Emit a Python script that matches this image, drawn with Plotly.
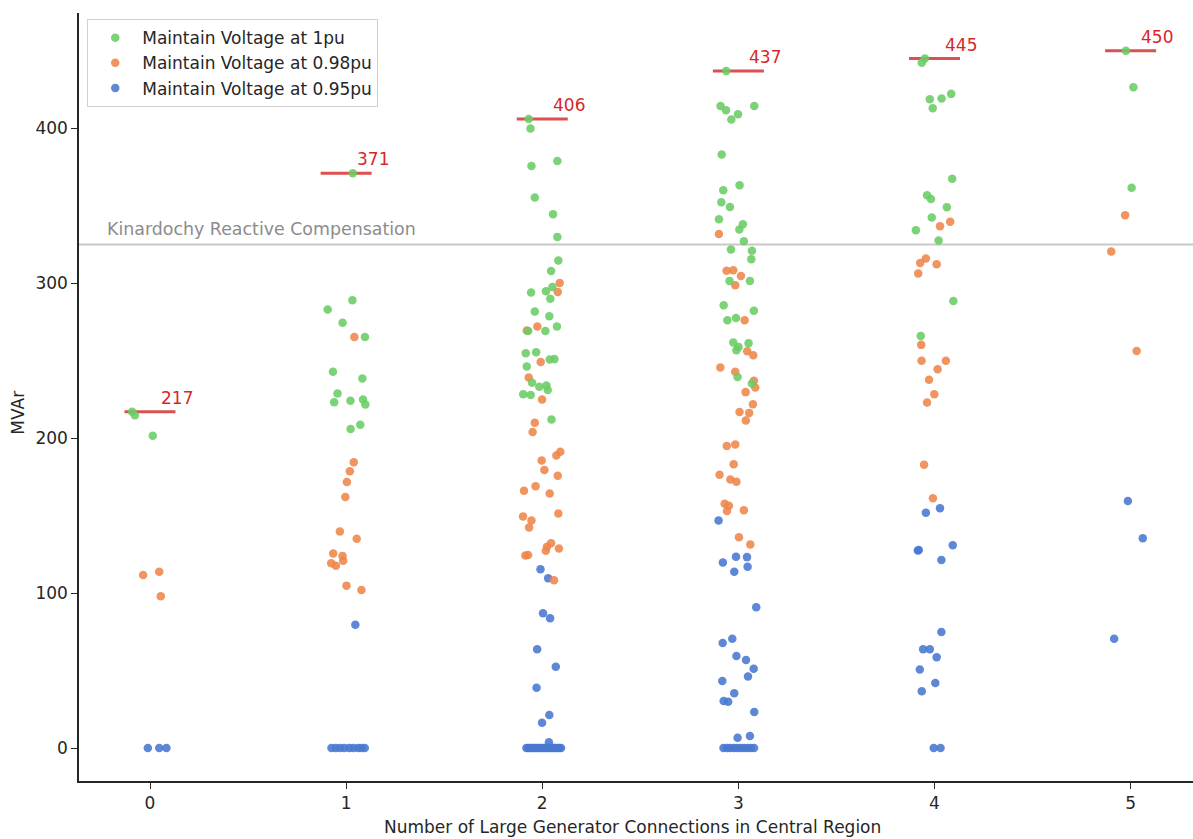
import plotly.graph_objects as go

categories = [0, 1, 2, 3, 4, 5]
series_names = ["Maintain Voltage at 1pu", "Maintain Voltage at 0.98pu", "Maintain Voltage at 0.95pu"]
max_vals = [217, 371, 406, 437, 445, 450]
compensation_level = 325
compensation_label = "Kinardochy Reactive Compensation"

# values per category (MVAr) and the horizontal jitter
green_y = [
    [217.0, 214.8, 201.5],
    [371.0, 289.0, 283.1, 274.5, 265.3, 242.8, 238.5, 228.8, 223.2, 224.2, 225.0, 221.7, 208.6, 205.9],
    [406.0, 399.8, 378.9, 375.7, 355.3, 344.5, 329.9, 314.6, 307.9, 297.6, 294.8, 294.0, 289.9, 281.7, 278.7,
     272.0, 269.2, 269.2, 254.8, 255.5, 250.8, 251.0, 246.2, 235.7, 233.1, 234.0, 231.0, 228.4, 227.9, 212.1],
    [437.0, 414.4, 411.6, 414.4, 409.0, 405.6, 383.0, 363.2, 360.0, 352.3, 349.2, 341.3, 338.0, 334.6, 327.1,
     321.7, 320.9, 315.5, 301.5, 301.5, 285.8, 282.2, 276.1, 277.6, 261.7, 261.3, 258.9, 256.8, 239.4, 235.3],
    [445.0, 442.3, 418.8, 419.2, 422.2, 413.0, 367.4, 356.7, 354.3, 349.1, 342.4, 334.2, 327.5, 288.5, 266.0],
    [450.0, 426.5, 361.6],
]
green_dx = [
    [-0.091, -0.077, 0.014],
    [0.034, 0.032, -0.094, -0.018, 0.096, -0.067, 0.083, -0.044, -0.061, 0.022, 0.086, 0.098, 0.072, 0.023],
    [-0.069, -0.060, 0.077, -0.055, -0.038, 0.055, 0.077, 0.082, 0.045, 0.052, 0.019, -0.057, 0.041, -0.038, 0.036,
     0.075, -0.072, 0.016, -0.084, -0.031, 0.038, 0.062, -0.079, -0.052, -0.015, 0.021, 0.028, -0.097, -0.059, 0.047],
    [-0.062, -0.091, -0.063, 0.081, -0.002, -0.036, -0.085, 0.006, -0.077, -0.087, -0.043, -0.099, 0.023, 0.005, 0.028,
     -0.038, 0.069, 0.066, -0.045, 0.059, -0.075, 0.079, -0.056, -0.012, -0.026, 0.052, 0.001, -0.010, -0.004, 0.069],
    [-0.049, -0.065, -0.024, 0.036, 0.085, -0.009, 0.090, -0.038, -0.018, 0.063, -0.014, -0.095, 0.021, 0.096, -0.070],
    [-0.024, 0.014, 0.005],
]

orange_y = [
    [111.6, 113.8, 98.0],
    [265.3, 184.4, 178.6, 171.7, 162.0, 139.8, 135.0, 125.5, 124.0, 119.2, 117.6, 120.9, 104.8, 102.0],
    [300.2, 294.4, 272.0, 269.4, 249.2, 239.2, 225.0, 209.9, 203.9, 191.2, 188.8, 185.6, 179.5, 175.7, 166.0,
     169.0, 164.3, 151.4, 149.5, 146.9, 142.4, 132.1, 129.9, 127.3, 128.8, 124.3, 124.5, 108.2],
    [331.8, 308.0, 308.4, 304.7, 298.7, 276.1, 256.1, 253.5, 245.6, 242.8, 237.0, 232.7, 229.7, 221.9, 216.8,
     216.3, 211.4, 195.0, 195.9, 183.2, 176.3, 173.3, 171.8, 157.6, 156.3, 152.9, 153.5, 136.1, 131.4],
    [336.7, 339.7, 316.0, 313.0, 312.3, 306.2, 260.2, 249.9, 249.9, 244.4, 237.7, 228.3, 223.0, 182.9, 161.2],
    [343.9, 320.5, 256.3],
]
orange_dx = [
    [-0.035, 0.047, 0.055],
    [0.042, 0.039, 0.019, 0.004, -0.004, -0.032, 0.054, -0.066, -0.018, -0.076, -0.052, -0.015, 0.002, 0.078],
    [0.089, 0.079, -0.025, -0.079, -0.008, -0.069, -0.001, -0.038, -0.049, 0.092, 0.072, -0.003, 0.011, 0.079, -0.093,
     -0.034, 0.038, 0.082, -0.098, -0.055, -0.067, 0.045, 0.024, 0.018, 0.085, -0.086, -0.072, 0.060],
    [-0.099, -0.060, -0.026, 0.013, -0.016, 0.032, 0.045, 0.076, -0.092, -0.016, 0.079, 0.086, 0.037, 0.074, 0.006,
     0.055, 0.038, -0.059, -0.016, -0.024, -0.096, -0.041, -0.010, -0.070, -0.048, -0.058, 0.028, 0.003, 0.061],
    [0.028, 0.080, -0.044, -0.073, 0.011, -0.083, -0.068, -0.066, 0.058, 0.016, -0.028, -0.001, -0.038, -0.053, -0.008],
    [-0.028, -0.099, 0.031],
]

blue_y = [
    [0, 0, 0],
    [79.6, 0, 0, 0, 0, 0, 0, 0, 0, 0],
    [115.3, 109.5, 86.9, 83.7, 63.7, 52.5, 38.9, 21.3, 16.3, 3.7,
     0, 0, 0, 0, 0, 0, 0, 0, 0, 0, 0, 0, 0, 0, 0, 0, 0, 0, 0, 0],
    [146.9, 123.4, 123.2, 119.8, 117.0, 113.8, 90.8, 70.5, 67.7, 59.4, 56.8, 51.2, 46.2, 43.2, 35.3,
     30.3, 29.9, 23.2, 6.6, 7.7, 0, 0, 0, 0, 0, 0, 0, 0, 0, 0],
    [151.8, 154.8, 127.5, 127.8, 130.8, 121.4, 74.8, 63.8, 63.8, 58.6, 50.7, 41.9, 36.7, 0, 0],
    [159.4, 135.4, 70.5],
]
blue_dx = [
    [-0.011, 0.047, 0.084],
    [0.047, -0.075, -0.053, -0.031, -0.009, 0.016, 0.037, 0.061, 0.079, 0.095],
    [-0.009, 0.030, 0.004, 0.040, -0.026, 0.069, -0.029, 0.036, -0.001, 0.034,
     -0.081, -0.071, -0.064, -0.054, -0.047, -0.035, -0.028, -0.017, -0.009, 0.003,
     0.011, 0.023, 0.030, 0.041, 0.049, 0.061, 0.068, 0.079, 0.087, 0.096],
    [-0.101, -0.012, 0.044, -0.079, 0.047, -0.021, 0.091, -0.031, -0.080, -0.010, 0.039, 0.078, 0.049, -0.082, -0.021,
     -0.075, -0.052, 0.081, -0.004, 0.059, -0.076, -0.058, -0.041, -0.023, -0.006, 0.012, 0.029, 0.046, 0.063, 0.080],
    [-0.044, 0.028, -0.085, -0.080, 0.093, 0.035, 0.035, -0.058, -0.024, 0.011, -0.075, 0.004, -0.065, -0.004, 0.031],
    [-0.014, 0.062, -0.084],
]

colors = ["#6acc64", "#ee854a", "#4878d0"]
FONT = "DejaVu Sans"
FS = 17


def flatten(vals, dxs):
    xs, ys = [], []
    for c, vs, ds in zip(categories, vals, dxs):
        if len(vs) != len(ds):
            raise ValueError("length mismatch in category %s" % c)
        for v, d in zip(vs, ds):
            xs.append(c + d)
            ys.append(v)
    return xs, ys


fig = go.Figure()

# maximum markers (under the points)
for c, m in zip(categories, max_vals):
    fig.add_trace(go.Scatter(x=[c - 0.13, c + 0.13], y=[m, m], mode="lines",
                             line=dict(color="#dc5050", width=3), showlegend=False,
                             hoverinfo="skip"))
    fig.add_annotation(x=c + 0.045, y=m, text=str(m), showarrow=False,
                       xanchor="left", yanchor="bottom", yshift=2,
                       font=dict(family=FONT, size=FS, color="#d62728"))

series = [(green_y, green_dx), (orange_y, orange_dx), (blue_y, blue_dx)]
# draw blue first, green last (on top); legend keeps green, orange, blue order
for idx in [2, 1, 0]:
    xs, ys = flatten(*series[idx])
    fig.add_trace(go.Scatter(x=xs, y=ys, mode="markers", name=series_names[idx],
                             marker=dict(color=colors[idx], size=8.5, opacity=0.88, line=dict(width=0)),
                             legendrank=idx + 1))

fig.add_shape(type="line", xref="paper", x0=0, x1=1, yref="y",
              y0=compensation_level, y1=compensation_level,
              line=dict(color="#c8c8c8", width=2), layer="below")
fig.add_annotation(x=-0.228, y=compensation_level, text=compensation_label, showarrow=False,
                   xanchor="left", yanchor="bottom", yshift=3,
                   font=dict(family=FONT, size=17.4, color="#8c8c8c"))

# axis titles
fig.add_annotation(xref="paper", yref="paper", x=0.4966, y=-0.06, text="Number of Large Generator Connections in Central Region",
                   showarrow=False, xanchor="center", yanchor="middle",
                   font=dict(family=FONT, size=FS, color="#262626"))
fig.add_annotation(xref="paper", yref="paper", x=-0.0545, y=0.48, text="MVAr", textangle=-90,
                   showarrow=False, xanchor="center", yanchor="middle",
                   font=dict(family=FONT, size=FS, color="#262626"))

fig.update_layout(
    width=1193, height=839,
    margin=dict(l=79, r=0, t=13, b=58),
    paper_bgcolor="white", plot_bgcolor="white",
    font=dict(family=FONT, size=FS, color="#262626"),
    showlegend=True,
    legend=dict(x=0.0074, y=0.992, xanchor="left", yanchor="top",
                bgcolor="white", bordercolor="#d0d0d0", borderwidth=1,
                font=dict(family=FONT, size=17, color="#262626"),
                itemwidth=44),
    xaxis=dict(range=[-0.362, 5.318], tickmode="array", tickvals=categories,
               ticktext=[str(c) for c in categories],
               showgrid=False, zeroline=False, showline=True, linecolor="#262626", linewidth=1.5,
               ticks="outside", ticklen=6, tickwidth=1.2, tickcolor="#262626",
               tickfont=dict(family=FONT, size=FS, color="#262626")),
    yaxis=dict(range=[-21.3, 474.4], tickmode="array", tickvals=[0, 100, 200, 300, 400],
               showgrid=False, zeroline=False, showline=True, linecolor="#262626", linewidth=1.5,
               ticks="outside", ticklen=6, tickwidth=1.2, tickcolor="#262626",
               tickfont=dict(family=FONT, size=FS, color="#262626")),
)

fig.write_html("out.html", config={"displayModeBar": False},
               post_script="document.body.style.margin='0';document.body.style.overflow='hidden';")
